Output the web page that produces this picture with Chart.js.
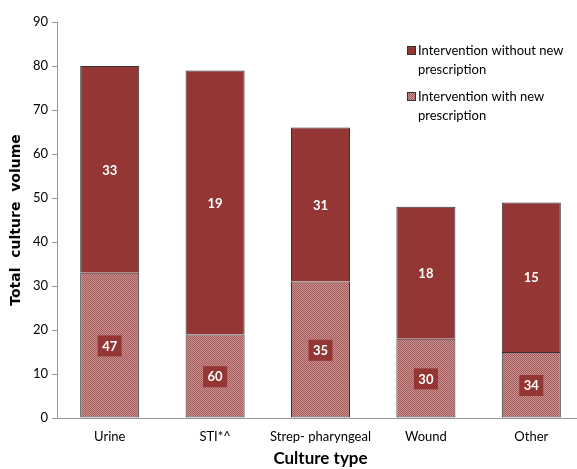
<!DOCTYPE html>
<html lang="en">
<head>
  <meta charset="UTF-8" />
  <title>Culture volume by type</title>
  <script src="https://cdn.jsdelivr.net/npm/chart.js"></script>
  <style>
    body { margin: 0; padding: 0; background: #fff; overflow: hidden; }
    #wrap { width: 577px; height: 469px; overflow: hidden; }
  </style>
</head>
<body>
  <div id="wrap"><canvas id="grafico" width="584" height="469"></canvas></div>

  <script>
    // data
    const categories = ['Urine', 'STI*^', 'Strep- pharyngeal', 'Wound', 'Other'];
    const withNew = [33, 19, 31, 18, 15];      // bottom segment heights
    const withoutNew = [47, 60, 35, 30, 34];   // top segment heights
    // labels as printed in the picture
    const bottomLabels = [47, 60, 35, 30, 34];
    const topLabels = [33, 19, 31, 18, 15];
    const yTicks = [0, 10, 20, 30, 40, 50, 60, 70, 80, 90];

    const darkRed = '#943634';

    // fine dotted fill for the lower segment
    function makePattern() {
      const c = document.createElement('canvas');
      c.width = 2; c.height = 2;
      const g = c.getContext('2d');
      g.fillStyle = '#c99090';
      g.fillRect(0, 0, 2, 2);
      g.fillStyle = '#a65c5c';
      g.fillRect(0, 0, 1, 1);
      g.fillRect(1, 1, 1, 1);
      return g.createPattern(c, 'repeat');
    }

    const segLabels = {
      id: 'segLabels',
      afterDatasetsDraw(chart) {
        const ctx = chart.ctx;
        const y = chart.scales.y;
        ctx.save();
        ctx.font = 'bold 13px Lato, sans-serif';
        ctx.textAlign = 'center';
        ctx.textBaseline = 'middle';
        chart.getDatasetMeta(0).data.forEach((bar, i) => {
          const cy = y.getPixelForValue(withNew[i] / 2);
          ctx.fillStyle = darkRed;
          ctx.fillRect(bar.x - 12, cy - 10, 24, 21);
          ctx.fillStyle = '#fff';
          ctx.fillText(bottomLabels[i], bar.x, cy + 1);
        });
        chart.getDatasetMeta(1).data.forEach((bar, i) => {
          const cy = y.getPixelForValue(withNew[i] + withoutNew[i] / 2);
          ctx.fillStyle = '#fff';
          ctx.fillText(topLabels[i], bar.x, cy + 1);
        });
        ctx.restore();
      }
    };

    const legendBox = {
      id: 'legendBox',
      afterDraw(chart) {
        const ctx = chart.ctx;
        ctx.save();
        ctx.font = '13px Lato, sans-serif';
        ctx.textBaseline = 'middle';
        ctx.fillStyle = '#000';
        ctx.fillText('Intervention without new', 418, 51);
        ctx.fillText('prescription', 418, 70);
        ctx.fillText('Intervention with new', 418, 97);
        ctx.fillText('prescription', 418, 116);
        ctx.fillStyle = darkRed;
        ctx.fillRect(407, 46, 9, 9);
        ctx.strokeStyle = '#333';
        ctx.lineWidth = 1;
        ctx.strokeRect(407.5, 46.5, 8, 8);
        ctx.fillStyle = makePattern();
        ctx.fillRect(407, 92, 9, 9);
        ctx.strokeRect(407.5, 92.5, 8, 8);
        ctx.restore();
      }
    };

    const ctx = document.getElementById('grafico').getContext('2d');
    new Chart(ctx, {
      type: 'bar',
      data: {
        labels: categories,
        datasets: [
          {
            label: 'Intervention with new prescription',
            data: withNew,
            backgroundColor: makePattern(),
            borderColor: '#333',
            borderWidth: 1,
            borderSkipped: false,
            categoryPercentage: 1,
            barPercentage: 0.56
          },
          {
            label: 'Intervention without new prescription',
            data: withoutNew,
            backgroundColor: darkRed,
            borderColor: '#333',
            borderWidth: 1,
            borderSkipped: 'bottom',
            categoryPercentage: 1,
            barPercentage: 0.56
          }
        ]
      },
      options: {
        responsive: false,
        animation: false,
        layout: { padding: { left: 4, right: 0, top: 22, bottom: 0 } },
        plugins: { legend: { display: false }, tooltip: { enabled: false } },
        scales: {
          x: {
            stacked: true,
            grid: { display: false, drawTicks: false },
            border: { color: '#999' },
            ticks: {
              color: '#000', font: { family: 'Lato, sans-serif', size: 13 },
              padding: 11, maxRotation: 0, autoSkip: false
            },
            title: {
              display: true,
              text: 'Culture type',
              color: '#000',
              font: { family: 'Lato, sans-serif', size: 17, weight: 'bold' },
              padding: { top: 12, bottom: 0 }
            },
            afterFit(s) { s.height = 51; }
          },
          y: {
            stacked: true,
            min: 0,
            max: 90,
            afterBuildTicks(s) { s.ticks = yTicks.map(v => ({ value: v })); },
            grid: { display: true, drawOnChartArea: false, tickLength: 5, color: '#999' },
            border: { color: '#999' },
            ticks: { color: '#000', font: { family: 'Lato, sans-serif', size: 13 }, padding: 4 },
            title: {
              display: true,
              text: 'Total  culture  volume',
              color: '#000',
              font: { family: 'DejaVu Sans, sans-serif', size: 14, weight: 'bold' },
              padding: { top: 4, bottom: 2 }
            },
            afterFit(s) { s.width = 53; }
          }
        }
      },
      plugins: [segLabels, legendBox]
    });
  </script>
</body>
</html>
